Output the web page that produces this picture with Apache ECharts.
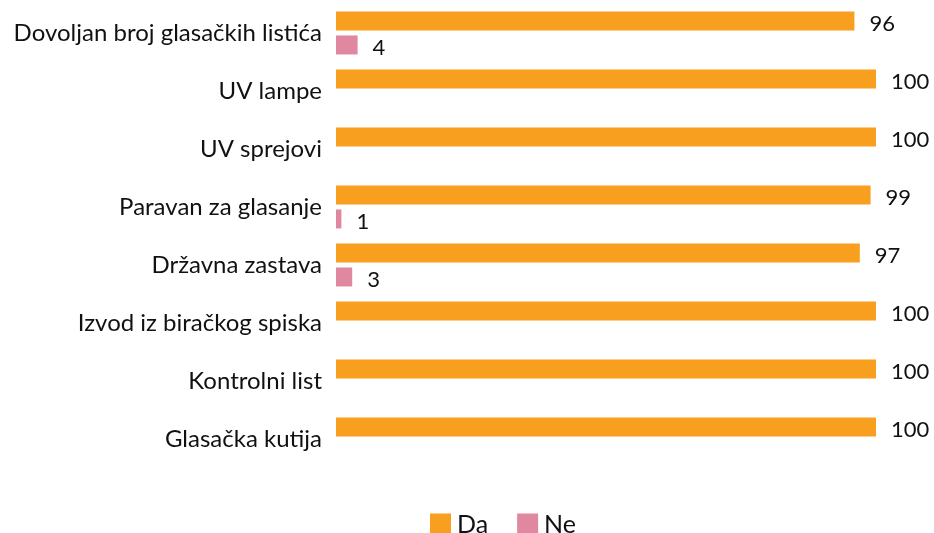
<!DOCTYPE html>
<html>
<head>
<meta charset="utf-8">
<script src="https://cdn.jsdelivr.net/npm/echarts@6/dist/echarts.min.js"></script>
<style>
html, body { margin: 0; padding: 0; background: #fff; }
#chart { width: 934px; height: 533px; }
</style>
</head>
<body>
<div id="chart"></div>
<script>
const categories = [
  'Dovoljan broj glasačkih listića',
  'UV lampe',
  'UV sprejovi',
  'Paravan za glasanje',
  'Državna zastava',
  'Izvod iz biračkog spiska',
  'Kontrolni list',
  'Glasačka kutija'
];
const daValues = [96, 100, 100, 99, 97, 100, 100, 100];
const neValues = [4, null, null, 1, 3, null, null, null];

const font = 'Lato';
const myChart = echarts.init(document.getElementById('chart'));
const valueLabel = {
  show: true,
  position: 'right',
  distance: 15,
  offset: [0, 3],
  fontSize: 22,
  color: '#111',
  fontFamily: font
};
const option = {
  animation: false,
  color: ['#F99F1F', '#E088A0'],
  textStyle: { fontFamily: font },
  grid: { left: 336, right: 58, top: 4, bottom: 65, containLabel: false },
  legend: {
    top: 512,
    left: 430,
    itemWidth: 21,
    itemHeight: 22,
    itemGap: 29,
    padding: 0,
    icon: 'rect',
    textStyle: { fontSize: 25, color: '#111', fontFamily: font, padding: [2, 0, 0, 1] },
    data: ['Da', 'Ne']
  },
  xAxis: {
    type: 'value',
    min: 0,
    max: 100,
    show: false
  },
  yAxis: {
    type: 'category',
    inverse: true,
    data: categories,
    axisLine: { show: false },
    axisTick: { show: false },
    splitLine: { show: false },
    axisLabel: { fontSize: 24, color: '#111', margin: 14, fontFamily: font, padding: [4, 0, 0, 0] }
  },
  series: [
    {
      name: 'Da',
      type: 'bar',
      data: daValues,
      barWidth: 19,
      barGap: '26%',
      label: valueLabel
    },
    {
      name: 'Ne',
      type: 'bar',
      data: neValues,
      barWidth: 19,
      label: valueLabel
    }
  ]
};
myChart.setOption(option);
window.addEventListener('resize', () => { myChart.resize(); });
</script>
</body>
</html>
